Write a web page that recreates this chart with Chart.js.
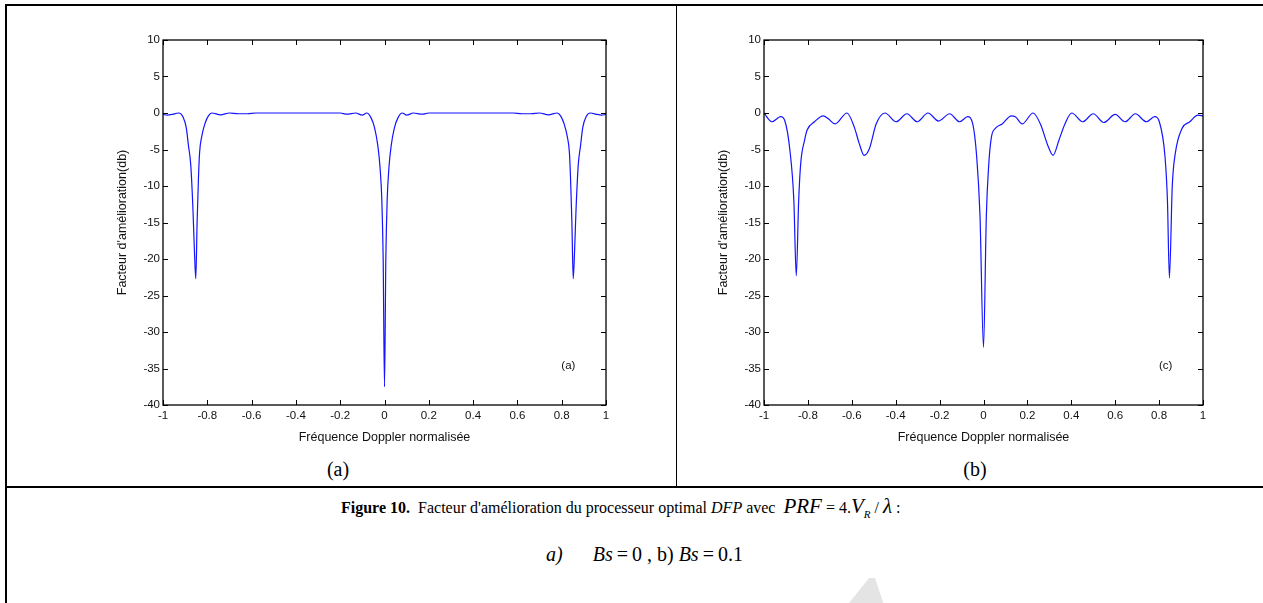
<!DOCTYPE html>
<html>
<head>
<meta charset="utf-8">
<script src="https://cdn.jsdelivr.net/npm/chart.js@4.4.0/dist/chart.umd.min.js"></script>
<style>
  body { margin: 0; background: #fff; }
  #page { position: relative; width: 1263px; height: 603px; overflow: hidden; font-family: "Liberation Serif", "Times New Roman", serif; color: #000; }
  .rule { position: absolute; background: #000; }
  canvas { position: absolute; }
  .cell-label { position: absolute; width: 120px; text-align: center; font-size: 20px; }
  .caption { position: absolute; font-size: 16px; white-space: nowrap; }
  .caption .m { font-size: 21px; font-style: italic; }
  .caption2 { position: absolute; font-size: 20px; white-space: nowrap; }
  .caption2 .eq { padding: 0 4px; }
  .watermark { position: absolute; left: 845px; top: 578px; width: 40px; height: 30px; background: #e4e4e4;
               clip-path: polygon(60% 0, 75% 0, 100% 100%, 0 100%); }
</style>
</head>
<body>
<div id="page">
  <div class="rule" style="left:5px;top:4px;width:1258px;height:2px"></div>
  <div class="rule" style="left:5px;top:4px;width:2px;height:599px"></div>
  <div class="rule" style="left:676px;top:5px;width:1px;height:482px"></div>
  <div class="rule" style="left:5px;top:486px;width:1258px;height:2px"></div>

  <canvas id="chartA" width="560" height="430" style="left:60px;top:28px"></canvas>
  <canvas id="chartB" width="556" height="430" style="left:661px;top:28px"></canvas>

  <div class="cell-label" style="left:278px;top:458px">(a)</div>
  <div class="cell-label" style="left:915px;top:458px">(b)</div>

  <div class="caption" style="left:341px;top:494px"><b>Figure 10.</b>&nbsp; Facteur d'amélioration du processeur optimal <i>DFP</i> avec &nbsp;<span class="m">PRF</span> = 4.<span class="m">V<sub style="font-size:11px">R</sub></span> / <span class="m">λ</span> :</div>
  <div class="caption2" style="left:546px;top:543px"><i>a)</i>&nbsp;&nbsp;&nbsp;&nbsp;&nbsp; <i>Bs</i><span class="eq">=</span>0 , b) <i>Bs</i><span class="eq">=</span>0.1</div>
  <div class="watermark"></div>
</div>

<script>
// tick values shared by both plots
const xTicks = [-1, -0.8, -0.6, -0.4, -0.2, 0, 0.2, 0.4, 0.6, 0.8, 1];
const yTicks = [-40, -35, -30, -25, -20, -15, -10, -5, 0, 5, 10];

// (a) Bs = 0
const freqA = [-1, -0.98, -0.96, -0.93, -0.91, -0.895, -0.885, -0.875, -0.865, -0.858, -0.852, -0.846, -0.84, -0.835, -0.825, -0.81, -0.795, -0.78,
  -0.74, -0.70, -0.66, -0.62, -0.58, -0.20, -0.17, -0.13, -0.10, -0.08, -0.06, -0.045, -0.03, -0.02, -0.012, -0.006, 0,
  0.006, 0.012, 0.02, 0.03, 0.045, 0.06, 0.08, 0.10, 0.13, 0.17, 0.20, 0.58, 0.62, 0.66, 0.70, 0.74, 0.78, 0.795, 0.81,
  0.825, 0.835, 0.84, 0.846, 0.852, 0.858, 0.865, 0.875, 0.885, 0.895, 0.91, 0.93, 0.96, 0.98, 1];
const gainA = [-0.2, -0.3, -0.2, 0, -0.5, -2, -4.5, -7, -13, -19, -22.7, -15, -9, -5.5, -3.2, -1.4, -0.4, 0,
  -0.25, 0, -0.1, -0.1, 0, 0, -0.15, 0, -0.3, 0, -0.7, -2, -4.5, -7.5, -12, -20, -37.5,
  -20, -12, -7.5, -4.5, -2, -0.7, 0, -0.3, 0, -0.15, 0, 0, -0.1, -0.1, 0, -0.25, 0, -0.4, -1.4,
  -3.2, -5.5, -9, -15, -22.7, -19, -13, -7, -4.5, -2, -0.5, 0, -0.2, -0.3, -0.2];

// (b) Bs = 0.1
const freqB = [-1, -0.964, -0.924, -0.906, -0.882, -0.864, -0.853, -0.842, -0.833, -0.815, -0.803, -0.77, -0.73, -0.707, -0.676,
  -0.622, -0.589, -0.566, -0.544, -0.52, -0.489, -0.449, -0.398, -0.349, -0.302, -0.253, -0.205, -0.154, -0.109, -0.072,
  -0.049, -0.031, -0.016, 0, 0.013, 0.024, 0.036, 0.054, 0.085, 0.127, 0.145, 0.176, 0.226, 0.262, 0.29, 0.317, 0.344,
  0.371, 0.402, 0.452, 0.5, 0.548, 0.6, 0.645, 0.692, 0.742, 0.78, 0.801, 0.827, 0.838, 0.847, 0.86, 0.874, 0.905, 0.94, 0.977, 1];
const gainB = [0, -1.2, -0.5, -1, -5.1, -12, -22.3, -12, -7, -3.7, -2.3, -1.2, -0.4, -0.8, -1.5,
  0, -1.9, -4.2, -5.8, -4.9, -1.5, 0, -1.2, -0.1, -1.2, 0, -1.1, -0.1, -1.2, -0.5,
  -1.5, -6, -14, -32.1, -14, -7, -3.3, -2.1, -1.5, -0.4, -0.5, -1.5, 0, -1.7, -4.2, -5.8, -3.7,
  -1.5, 0, -1.2, -0.1, -1.3, -0.2, -1.2, -0.1, -1.2, -0.5, -1.2, -6, -12, -22.6, -10, -5.5, -2.1, -1.2, -0.3, -0.4];

const tickFont = {family: "'Liberation Sans', Arial, sans-serif", size: 11.5};
const titleFont = {family: "'Liberation Sans', Arial, sans-serif", size: 12.5};

// matlab-like box: frame plus inward ticks on all four sides, and the tag text
const boxTicks = {
    id: 'boxTicks',
    afterDraw(chart, args, opts) {
        const ctx = chart.ctx;
        const a = chart.chartArea;
        const x = chart.scales.x;
        const y = chart.scales.y;
        ctx.save();
        ctx.strokeStyle = '#000';
        ctx.lineWidth = 1.3;
        ctx.strokeRect(a.left, a.top, a.right - a.left, a.bottom - a.top);
        ctx.lineWidth = 1;
        ctx.beginPath();
        xTicks.forEach(v => {
            let px = Math.round(x.getPixelForValue(v)) + 0.5;
            ctx.moveTo(px, a.bottom); ctx.lineTo(px, a.bottom - 5);
            ctx.moveTo(px, a.top); ctx.lineTo(px, a.top + 5);
        });
        yTicks.forEach(v => {
            let py = Math.round(y.getPixelForValue(v)) + 0.5;
            ctx.moveTo(a.left, py); ctx.lineTo(a.left + 5, py);
            ctx.moveTo(a.right, py); ctx.lineTo(a.right - 5, py);
        });
        ctx.stroke();
        ctx.fillStyle = '#111';
        ctx.font = "11.5px 'Liberation Sans', Arial, sans-serif";
        ctx.textAlign = 'center';
        ctx.textBaseline = 'middle';
        ctx.fillText(opts.tag, x.getPixelForValue(0.83), y.getPixelForValue(-34.6));
        ctx.restore();
    }
};

function makeChart(id, freq, gain, tag) {
    let ctx = document.getElementById(id);
    let points = freq.map((f, i) => ({x: f, y: gain[i]}));
    return new Chart(ctx, {
        type: 'line',
        data: {
            datasets: [{
                data: points,
                borderColor: 'rgb(20,20,255)',
                borderWidth: 1.2,
                pointRadius: 0,
                fill: false,
                cubicInterpolationMode: 'monotone'
            }]
        },
        options: {
            responsive: false,
            animation: false,
            devicePixelRatio: 1,
            layout: {padding: {top: 12, right: 14, left: 0, bottom: 0}},
            plugins: {
                legend: {display: false},
                title: {display: false},
                tooltip: {enabled: false},
                boxTicks: {tag: tag}
            },
            scales: {
                x: {
                    type: 'linear',
                    min: -1,
                    max: 1,
                    afterBuildTicks: scale => { scale.ticks = xTicks.map(v => ({value: v})); },
                    afterFit: scale => { scale.height = 53; },
                    grid: {display: false, drawTicks: false},
                    border: {display: false},
                    ticks: {
                        font: tickFont,
                        color: '#111',
                        padding: 4,
                        maxRotation: 0,
                        callback: v => String(Math.round(v * 10) / 10)
                    },
                    title: {
                        display: true,
                        text: 'Fréquence Doppler normalisée',
                        font: titleFont,
                        color: '#111',
                        padding: {top: 0, bottom: 13}
                    }
                },
                y: {
                    min: -40,
                    max: 10,
                    afterBuildTicks: scale => { scale.ticks = yTicks.map(v => ({value: v})); },
                    afterFit: scale => { scale.width = 103; },
                    grid: {display: false, drawTicks: false},
                    border: {display: false},
                    ticks: {
                        font: tickFont,
                        color: '#111',
                        padding: 3
                    },
                    title: {
                        display: true,
                        text: "Facteur d'amélioration(db)",
                        font: titleFont,
                        color: '#111',
                        padding: {top: 55, bottom: 0}
                    }
                }
            }
        },
        plugins: [boxTicks]
    });
}

makeChart('chartA', freqA, gainA, '(a)');
makeChart('chartB', freqB, gainB, '(c)');
</script>
</body>
</html>
